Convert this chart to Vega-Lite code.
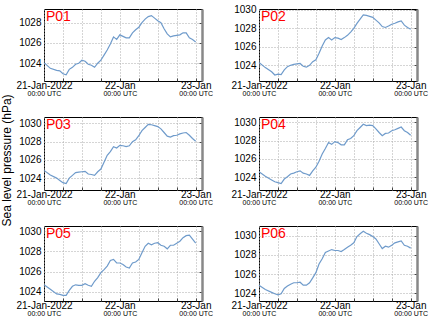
{
"$schema":"https://vega.github.io/schema/vega-lite/v6.json",
"background":"white",
"padding":{"left":1,"right":0,"top":4,"bottom":0},
"config":{"font":"Liberation Sans","view":{"stroke":"black","strokeWidth":1},
 "title":{"font":"Liberation Sans"},
 "text":{"color":"red","fontSize":14,"align":"left","baseline":"top","dx":2,"dy":1},
 "axisX":{"title":null,"labelColor":"black","labelFlush":false,"labelOverlap":false,"labelBound":false},
 "axisY":{"title":null,"labelColor":"black","labelOverlap":false,"format":"d"}},
"title":{"text":"Sea level pressure (hPa)","orient":"left","anchor":"middle","fontSize":12,"fontWeight":"normal","color":"black","offset":1},
"datasets":{"slp":[
{"p":"P01","h":0,"v":1024.06},{"p":"P01","h":2,"v":1023.5},{"p":"P01","h":4,"v":1023.3},{"p":"P01","h":5,"v":1023.25},{"p":"P01","h":6,"v":1022.97},{"p":"P01","h":7,"v":1022.87},{"p":"P01","h":8,"v":1023.4},{"p":"P01","h":9,"v":1023.6},{"p":"P01","h":10,"v":1023.9},{"p":"P01","h":11,"v":1024.0},{"p":"P01","h":12,"v":1024.3},{"p":"P01","h":13,"v":1024.2},{"p":"P01","h":14,"v":1023.9},{"p":"P01","h":15,"v":1023.8},{"p":"P01","h":16,"v":1023.6},{"p":"P01","h":17,"v":1024.0},{"p":"P01","h":18,"v":1024.3},{"p":"P01","h":19,"v":1024.8},{"p":"P01","h":20,"v":1025.3},{"p":"P01","h":21,"v":1025.9},{"p":"P01","h":22,"v":1026.6},{"p":"P01","h":23,"v":1026.35},{"p":"P01","h":24,"v":1026.8},{"p":"P01","h":25,"v":1026.65},{"p":"P01","h":26,"v":1026.5},{"p":"P01","h":27,"v":1026.5},{"p":"P01","h":28,"v":1027.0},{"p":"P01","h":29,"v":1027.3},{"p":"P01","h":30,"v":1027.55},{"p":"P01","h":31,"v":1028.0},{"p":"P01","h":32,"v":1028.35},{"p":"P01","h":33,"v":1028.6},{"p":"P01","h":34,"v":1028.7},{"p":"P01","h":35,"v":1028.45},{"p":"P01","h":36,"v":1028.2},{"p":"P01","h":37,"v":1028.0},{"p":"P01","h":38,"v":1027.4},{"p":"P01","h":39,"v":1026.9},{"p":"P01","h":40,"v":1026.6},{"p":"P01","h":41,"v":1026.7},{"p":"P01","h":42,"v":1026.75},{"p":"P01","h":43,"v":1026.8},{"p":"P01","h":44,"v":1027.0},{"p":"P01","h":45,"v":1027.0},{"p":"P01","h":46,"v":1026.5},{"p":"P01","h":47,"v":1026.35},{"p":"P01","h":48,"v":1026.1},
{"p":"P02","h":0,"v":1024.3},{"p":"P02","h":2,"v":1023.75},{"p":"P02","h":4,"v":1023.3},{"p":"P02","h":5,"v":1022.95},{"p":"P02","h":6,"v":1023.05},{"p":"P02","h":7,"v":1023.0},{"p":"P02","h":8,"v":1023.5},{"p":"P02","h":9,"v":1023.85},{"p":"P02","h":10,"v":1024.0},{"p":"P02","h":11,"v":1024.1},{"p":"P02","h":12,"v":1024.15},{"p":"P02","h":13,"v":1024.2},{"p":"P02","h":14,"v":1023.9},{"p":"P02","h":15,"v":1023.8},{"p":"P02","h":16,"v":1024.0},{"p":"P02","h":17,"v":1024.4},{"p":"P02","h":18,"v":1024.6},{"p":"P02","h":19,"v":1025.3},{"p":"P02","h":20,"v":1026.1},{"p":"P02","h":21,"v":1026.75},{"p":"P02","h":22,"v":1027.0},{"p":"P02","h":23,"v":1026.75},{"p":"P02","h":24,"v":1027.0},{"p":"P02","h":25,"v":1026.95},{"p":"P02","h":26,"v":1026.8},{"p":"P02","h":27,"v":1027.0},{"p":"P02","h":28,"v":1027.25},{"p":"P02","h":29,"v":1027.6},{"p":"P02","h":30,"v":1028.0},{"p":"P02","h":31,"v":1028.55},{"p":"P02","h":32,"v":1029.0},{"p":"P02","h":33,"v":1029.45},{"p":"P02","h":34,"v":1029.4},{"p":"P02","h":35,"v":1029.3},{"p":"P02","h":36,"v":1029.2},{"p":"P02","h":37,"v":1028.9},{"p":"P02","h":38,"v":1028.6},{"p":"P02","h":39,"v":1028.2},{"p":"P02","h":40,"v":1028.1},{"p":"P02","h":41,"v":1028.25},{"p":"P02","h":42,"v":1028.45},{"p":"P02","h":43,"v":1028.55},{"p":"P02","h":44,"v":1028.7},{"p":"P02","h":45,"v":1028.8},{"p":"P02","h":46,"v":1028.35},{"p":"P02","h":47,"v":1028.1},{"p":"P02","h":48,"v":1027.9},
{"p":"P03","h":0,"v":1024.85},{"p":"P03","h":2,"v":1024.35},{"p":"P03","h":4,"v":1024.0},{"p":"P03","h":5,"v":1023.75},{"p":"P03","h":6,"v":1023.5},{"p":"P03","h":7,"v":1023.4},{"p":"P03","h":8,"v":1024.0},{"p":"P03","h":9,"v":1024.3},{"p":"P03","h":10,"v":1024.6},{"p":"P03","h":11,"v":1024.65},{"p":"P03","h":12,"v":1024.7},{"p":"P03","h":13,"v":1024.75},{"p":"P03","h":14,"v":1024.45},{"p":"P03","h":15,"v":1024.4},{"p":"P03","h":16,"v":1024.3},{"p":"P03","h":17,"v":1024.7},{"p":"P03","h":18,"v":1025.0},{"p":"P03","h":19,"v":1025.75},{"p":"P03","h":20,"v":1026.5},{"p":"P03","h":21,"v":1026.9},{"p":"P03","h":22,"v":1027.45},{"p":"P03","h":23,"v":1027.3},{"p":"P03","h":24,"v":1027.6},{"p":"P03","h":25,"v":1027.55},{"p":"P03","h":26,"v":1027.45},{"p":"P03","h":27,"v":1027.55},{"p":"P03","h":28,"v":1028.0},{"p":"P03","h":29,"v":1028.2},{"p":"P03","h":30,"v":1028.65},{"p":"P03","h":31,"v":1029.2},{"p":"P03","h":32,"v":1029.55},{"p":"P03","h":33,"v":1029.9},{"p":"P03","h":34,"v":1029.85},{"p":"P03","h":35,"v":1029.75},{"p":"P03","h":36,"v":1029.65},{"p":"P03","h":37,"v":1029.4},{"p":"P03","h":38,"v":1029.0},{"p":"P03","h":39,"v":1028.6},{"p":"P03","h":40,"v":1028.5},{"p":"P03","h":41,"v":1028.65},{"p":"P03","h":42,"v":1028.7},{"p":"P03","h":43,"v":1028.85},{"p":"P03","h":44,"v":1028.95},{"p":"P03","h":45,"v":1029.0},{"p":"P03","h":46,"v":1028.7},{"p":"P03","h":47,"v":1028.35},{"p":"P03","h":48,"v":1028.05},
{"p":"P04","h":0,"v":1024.6},{"p":"P04","h":2,"v":1024.1},{"p":"P04","h":4,"v":1023.7},{"p":"P04","h":5,"v":1023.5},{"p":"P04","h":6,"v":1023.4},{"p":"P04","h":7,"v":1023.3},{"p":"P04","h":8,"v":1023.8},{"p":"P04","h":9,"v":1024.05},{"p":"P04","h":10,"v":1024.35},{"p":"P04","h":11,"v":1024.45},{"p":"P04","h":12,"v":1024.6},{"p":"P04","h":13,"v":1024.7},{"p":"P04","h":14,"v":1024.45},{"p":"P04","h":15,"v":1024.35},{"p":"P04","h":16,"v":1024.2},{"p":"P04","h":17,"v":1024.7},{"p":"P04","h":18,"v":1025.1},{"p":"P04","h":19,"v":1025.75},{"p":"P04","h":20,"v":1026.55},{"p":"P04","h":21,"v":1027.15},{"p":"P04","h":22,"v":1027.8},{"p":"P04","h":23,"v":1027.6},{"p":"P04","h":24,"v":1027.9},{"p":"P04","h":25,"v":1027.8},{"p":"P04","h":26,"v":1027.55},{"p":"P04","h":27,"v":1027.55},{"p":"P04","h":28,"v":1028.1},{"p":"P04","h":29,"v":1028.25},{"p":"P04","h":30,"v":1028.55},{"p":"P04","h":31,"v":1029.1},{"p":"P04","h":32,"v":1029.45},{"p":"P04","h":33,"v":1029.8},{"p":"P04","h":34,"v":1029.65},{"p":"P04","h":35,"v":1029.7},{"p":"P04","h":36,"v":1029.65},{"p":"P04","h":37,"v":1029.3},{"p":"P04","h":38,"v":1028.9},{"p":"P04","h":39,"v":1028.55},{"p":"P04","h":40,"v":1028.8},{"p":"P04","h":41,"v":1028.85},{"p":"P04","h":42,"v":1029.1},{"p":"P04","h":43,"v":1029.2},{"p":"P04","h":44,"v":1029.35},{"p":"P04","h":45,"v":1029.5},{"p":"P04","h":46,"v":1029.1},{"p":"P04","h":47,"v":1028.9},{"p":"P04","h":48,"v":1028.6},
{"p":"P05","h":0,"v":1024.7},{"p":"P05","h":2,"v":1024.25},{"p":"P05","h":4,"v":1023.8},{"p":"P05","h":5,"v":1023.75},{"p":"P05","h":6,"v":1023.65},{"p":"P05","h":7,"v":1023.65},{"p":"P05","h":8,"v":1024.15},{"p":"P05","h":9,"v":1024.55},{"p":"P05","h":10,"v":1024.7},{"p":"P05","h":11,"v":1024.65},{"p":"P05","h":12,"v":1024.65},{"p":"P05","h":13,"v":1024.8},{"p":"P05","h":14,"v":1024.65},{"p":"P05","h":15,"v":1024.55},{"p":"P05","h":16,"v":1025.05},{"p":"P05","h":17,"v":1025.4},{"p":"P05","h":18,"v":1025.9},{"p":"P05","h":19,"v":1026.2},{"p":"P05","h":20,"v":1026.55},{"p":"P05","h":21,"v":1027.1},{"p":"P05","h":22,"v":1027.2},{"p":"P05","h":23,"v":1026.85},{"p":"P05","h":24,"v":1026.85},{"p":"P05","h":25,"v":1026.7},{"p":"P05","h":26,"v":1026.45},{"p":"P05","h":27,"v":1026.35},{"p":"P05","h":28,"v":1026.85},{"p":"P05","h":29,"v":1026.95},{"p":"P05","h":30,"v":1027.2},{"p":"P05","h":31,"v":1027.85},{"p":"P05","h":32,"v":1028.5},{"p":"P05","h":33,"v":1028.8},{"p":"P05","h":34,"v":1028.65},{"p":"P05","h":35,"v":1028.8},{"p":"P05","h":36,"v":1028.85},{"p":"P05","h":37,"v":1028.6},{"p":"P05","h":38,"v":1028.5},{"p":"P05","h":39,"v":1028.25},{"p":"P05","h":40,"v":1028.6},{"p":"P05","h":41,"v":1028.6},{"p":"P05","h":42,"v":1028.8},{"p":"P05","h":43,"v":1029.0},{"p":"P05","h":44,"v":1029.35},{"p":"P05","h":45,"v":1029.55},{"p":"P05","h":46,"v":1029.6},{"p":"P05","h":47,"v":1029.2},{"p":"P05","h":48,"v":1028.8},
{"p":"P06","h":0,"v":1024.85},{"p":"P06","h":2,"v":1024.4},{"p":"P06","h":4,"v":1024.1},{"p":"P06","h":5,"v":1023.95},{"p":"P06","h":6,"v":1023.85},{"p":"P06","h":7,"v":1023.95},{"p":"P06","h":8,"v":1024.5},{"p":"P06","h":9,"v":1024.75},{"p":"P06","h":10,"v":1024.95},{"p":"P06","h":11,"v":1025.1},{"p":"P06","h":12,"v":1025.1},{"p":"P06","h":13,"v":1025.15},{"p":"P06","h":14,"v":1024.85},{"p":"P06","h":15,"v":1024.85},{"p":"P06","h":16,"v":1025.1},{"p":"P06","h":17,"v":1025.6},{"p":"P06","h":18,"v":1026.15},{"p":"P06","h":19,"v":1027.05},{"p":"P06","h":20,"v":1027.6},{"p":"P06","h":21,"v":1028.25},{"p":"P06","h":22,"v":1028.4},{"p":"P06","h":23,"v":1028.55},{"p":"P06","h":24,"v":1028.45},{"p":"P06","h":25,"v":1028.45},{"p":"P06","h":26,"v":1028.35},{"p":"P06","h":27,"v":1028.55},{"p":"P06","h":28,"v":1028.8},{"p":"P06","h":29,"v":1029.0},{"p":"P06","h":30,"v":1029.25},{"p":"P06","h":31,"v":1029.9},{"p":"P06","h":32,"v":1030.2},{"p":"P06","h":33,"v":1030.45},{"p":"P06","h":34,"v":1030.25},{"p":"P06","h":35,"v":1030.1},{"p":"P06","h":36,"v":1029.9},{"p":"P06","h":37,"v":1029.65},{"p":"P06","h":38,"v":1029.15},{"p":"P06","h":39,"v":1028.65},{"p":"P06","h":40,"v":1028.9},{"p":"P06","h":41,"v":1028.8},{"p":"P06","h":42,"v":1029.0},{"p":"P06","h":43,"v":1029.25},{"p":"P06","h":44,"v":1029.35},{"p":"P06","h":45,"v":1029.45},{"p":"P06","h":46,"v":1029.0},{"p":"P06","h":47,"v":1028.9},{"p":"P06","h":48,"v":1028.7}
]},
"data":{"name":"slp"},
"spacing":19,
"vconcat":[
{"spacing":16,"hconcat":[
{"width":158,"height":72,
 "transform":[{"filter":"datum.p==='P01'"}],
 "layer":[
  {"mark":{"type":"line","color":"#6f9bcb","strokeWidth":1.2},
   "encoding":{"x":{"field":"h","type":"quantitative","scale":{"domain":[0,48]},"axis":{"values":[0,6,12,18,24,30,36,42,48],"labelExpr":"datum.value==0?'21-Jan-2022':datum.value==24?'22-Jan':datum.value==48?'23-Jan':''","grid":true,"gridDash":[1,2],"gridColor":"#aaa","tickSize":-3,"tickColor":"#444","labelFontSize":10,"labelPadding":2,"domain":false}},
    "y":{"field":"v","type":"quantitative","scale":{"domain":[1022.25,1029.35],"nice":false,"zero":false},"axis":{"values":[1024,1026,1028],"grid":true,"gridDash":[1,2],"gridColor":"#aaa","tickSize":0,"labelFontSize":10,"labelPadding":3,"domain":false}}}},
  {"mark":{"type":"line","opacity":0},
   "encoding":{"x":{"field":"h","type":"quantitative","axis":{"orient":"bottom","values":[0,24,48],"labelExpr":"'00:00 UTC'","labelFontSize":7,"labelPadding":8,"ticks":false,"domain":false,"grid":false}},
    "y":{"field":"v","type":"quantitative","axis":{"orient":"right","values":[1024,1026,1028],"labels":false,"grid":false,"tickSize":-3,"tickColor":"#444","domainColor":"#888","domainWidth":2.5}}}},
  {"transform":[{"filter":"datum.h==0"}],"mark":{"type":"text"},
   "encoding":{"x":{"datum":0,"type":"quantitative","axis":null},"y":{"datum":1029.35,"type":"quantitative","axis":null},"text":{"field":"p"}}}
 ],
 "resolve":{"axis":{"x":"independent","y":"independent"}}},
{"width":158,"height":72,
 "transform":[{"filter":"datum.p==='P02'"}],
 "layer":[
  {"mark":{"type":"line","color":"#6f9bcb","strokeWidth":1.2},
   "encoding":{"x":{"field":"h","type":"quantitative","scale":{"domain":[0,48]},"axis":{"values":[0,6,12,18,24,30,36,42,48],"labelExpr":"datum.value==0?'21-Jan-2022':datum.value==24?'22-Jan':datum.value==48?'23-Jan':''","grid":true,"gridDash":[1,2],"gridColor":"#aaa","tickSize":-3,"tickColor":"#444","labelFontSize":10,"labelPadding":2,"domain":false}},
    "y":{"field":"v","type":"quantitative","scale":{"domain":[1022.3,1030.1],"nice":false,"zero":false},"axis":{"values":[1024,1026,1028,1030],"grid":true,"gridDash":[1,2],"gridColor":"#aaa","tickSize":0,"labelFontSize":10,"labelPadding":3,"domain":false}}}},
  {"mark":{"type":"line","opacity":0},
   "encoding":{"x":{"field":"h","type":"quantitative","axis":{"orient":"bottom","values":[0,24,48],"labelExpr":"'00:00 UTC'","labelFontSize":7,"labelPadding":8,"ticks":false,"domain":false,"grid":false}},
    "y":{"field":"v","type":"quantitative","axis":{"orient":"right","values":[1024,1026,1028,1030],"labels":false,"grid":false,"tickSize":-3,"tickColor":"#444","domainColor":"#888","domainWidth":2.5}}}},
  {"transform":[{"filter":"datum.h==0"}],"mark":{"type":"text"},
   "encoding":{"x":{"datum":0,"type":"quantitative","axis":null},"y":{"datum":1030.1,"type":"quantitative","axis":null},"text":{"field":"p"}}}
 ],
 "resolve":{"axis":{"x":"independent","y":"independent"}}}
]},
{"spacing":16,"hconcat":[
{"width":158,"height":73,
 "transform":[{"filter":"datum.p==='P03'"}],
 "layer":[
  {"mark":{"type":"line","color":"#6f9bcb","strokeWidth":1.2},
   "encoding":{"x":{"field":"h","type":"quantitative","scale":{"domain":[0,48]},"axis":{"values":[0,6,12,18,24,30,36,42,48],"labelExpr":"datum.value==0?'21-Jan-2022':datum.value==24?'22-Jan':datum.value==48?'23-Jan':''","grid":true,"gridDash":[1,2],"gridColor":"#aaa","tickSize":-3,"tickColor":"#444","labelFontSize":10,"labelPadding":2,"domain":false}},
    "y":{"field":"v","type":"quantitative","scale":{"domain":[1022.7,1030.7],"nice":false,"zero":false},"axis":{"values":[1024,1026,1028,1030],"grid":true,"gridDash":[1,2],"gridColor":"#aaa","tickSize":0,"labelFontSize":10,"labelPadding":3,"domain":false}}}},
  {"mark":{"type":"line","opacity":0},
   "encoding":{"x":{"field":"h","type":"quantitative","axis":{"orient":"bottom","values":[0,24,48],"labelExpr":"'00:00 UTC'","labelFontSize":7,"labelPadding":8,"ticks":false,"domain":false,"grid":false}},
    "y":{"field":"v","type":"quantitative","axis":{"orient":"right","values":[1024,1026,1028,1030],"labels":false,"grid":false,"tickSize":-3,"tickColor":"#444","domainColor":"#888","domainWidth":2.5}}}},
  {"transform":[{"filter":"datum.h==0"}],"mark":{"type":"text"},
   "encoding":{"x":{"datum":0,"type":"quantitative","axis":null},"y":{"datum":1030.7,"type":"quantitative","axis":null},"text":{"field":"p"}}}
 ],
 "resolve":{"axis":{"x":"independent","y":"independent"}}},
{"width":158,"height":73,
 "transform":[{"filter":"datum.p==='P04'"}],
 "layer":[
  {"mark":{"type":"line","color":"#6f9bcb","strokeWidth":1.2},
   "encoding":{"x":{"field":"h","type":"quantitative","scale":{"domain":[0,48]},"axis":{"values":[0,6,12,18,24,30,36,42,48],"labelExpr":"datum.value==0?'21-Jan-2022':datum.value==24?'22-Jan':datum.value==48?'23-Jan':''","grid":true,"gridDash":[1,2],"gridColor":"#aaa","tickSize":-3,"tickColor":"#444","labelFontSize":10,"labelPadding":2,"domain":false}},
    "y":{"field":"v","type":"quantitative","scale":{"domain":[1022.6,1030.6],"nice":false,"zero":false},"axis":{"values":[1024,1026,1028,1030],"grid":true,"gridDash":[1,2],"gridColor":"#aaa","tickSize":0,"labelFontSize":10,"labelPadding":3,"domain":false}}}},
  {"mark":{"type":"line","opacity":0},
   "encoding":{"x":{"field":"h","type":"quantitative","axis":{"orient":"bottom","values":[0,24,48],"labelExpr":"'00:00 UTC'","labelFontSize":7,"labelPadding":8,"ticks":false,"domain":false,"grid":false}},
    "y":{"field":"v","type":"quantitative","axis":{"orient":"right","values":[1024,1026,1028,1030],"labels":false,"grid":false,"tickSize":-3,"tickColor":"#444","domainColor":"#888","domainWidth":2.5}}}},
  {"transform":[{"filter":"datum.h==0"}],"mark":{"type":"text"},
   "encoding":{"x":{"datum":0,"type":"quantitative","axis":null},"y":{"datum":1030.6,"type":"quantitative","axis":null},"text":{"field":"p"}}}
 ],
 "resolve":{"axis":{"x":"independent","y":"independent"}}}
]},
{"spacing":16,"hconcat":[
{"width":158,"height":75,
 "transform":[{"filter":"datum.p==='P05'"}],
 "layer":[
  {"mark":{"type":"line","color":"#6f9bcb","strokeWidth":1.2},
   "encoding":{"x":{"field":"h","type":"quantitative","scale":{"domain":[0,48]},"axis":{"values":[0,6,12,18,24,30,36,42,48],"labelExpr":"datum.value==0?'21-Jan-2022':datum.value==24?'22-Jan':datum.value==48?'23-Jan':''","grid":true,"gridDash":[1,2],"gridColor":"#aaa","tickSize":-3,"tickColor":"#444","labelFontSize":10,"labelPadding":2,"domain":false}},
    "y":{"field":"v","type":"quantitative","scale":{"domain":[1023.1,1030.5],"nice":false,"zero":false},"axis":{"values":[1024,1026,1028,1030],"grid":true,"gridDash":[1,2],"gridColor":"#aaa","tickSize":0,"labelFontSize":10,"labelPadding":3,"domain":false}}}},
  {"mark":{"type":"line","opacity":0},
   "encoding":{"x":{"field":"h","type":"quantitative","axis":{"orient":"bottom","values":[0,24,48],"labelExpr":"'00:00 UTC'","labelFontSize":7,"labelPadding":8,"ticks":false,"domain":false,"grid":false}},
    "y":{"field":"v","type":"quantitative","axis":{"orient":"right","values":[1024,1026,1028,1030],"labels":false,"grid":false,"tickSize":-3,"tickColor":"#444","domainColor":"#888","domainWidth":2.5}}}},
  {"transform":[{"filter":"datum.h==0"}],"mark":{"type":"text"},
   "encoding":{"x":{"datum":0,"type":"quantitative","axis":null},"y":{"datum":1030.5,"type":"quantitative","axis":null},"text":{"field":"p"}}}
 ],
 "resolve":{"axis":{"x":"independent","y":"independent"}}},
{"width":158,"height":75,
 "transform":[{"filter":"datum.p==='P06'"}],
 "layer":[
  {"mark":{"type":"line","color":"#6f9bcb","strokeWidth":1.2},
   "encoding":{"x":{"field":"h","type":"quantitative","scale":{"domain":[0,48]},"axis":{"values":[0,6,12,18,24,30,36,42,48],"labelExpr":"datum.value==0?'21-Jan-2022':datum.value==24?'22-Jan':datum.value==48?'23-Jan':''","grid":true,"gridDash":[1,2],"gridColor":"#aaa","tickSize":-3,"tickColor":"#444","labelFontSize":10,"labelPadding":2,"domain":false}},
    "y":{"field":"v","type":"quantitative","scale":{"domain":[1023.2,1031.0],"nice":false,"zero":false},"axis":{"values":[1024,1026,1028,1030],"grid":true,"gridDash":[1,2],"gridColor":"#aaa","tickSize":0,"labelFontSize":10,"labelPadding":3,"domain":false}}}},
  {"mark":{"type":"line","opacity":0},
   "encoding":{"x":{"field":"h","type":"quantitative","axis":{"orient":"bottom","values":[0,24,48],"labelExpr":"'00:00 UTC'","labelFontSize":7,"labelPadding":8,"ticks":false,"domain":false,"grid":false}},
    "y":{"field":"v","type":"quantitative","axis":{"orient":"right","values":[1024,1026,1028,1030],"labels":false,"grid":false,"tickSize":-3,"tickColor":"#444","domainColor":"#888","domainWidth":2.5}}}},
  {"transform":[{"filter":"datum.h==0"}],"mark":{"type":"text"},
   "encoding":{"x":{"datum":0,"type":"quantitative","axis":null},"y":{"datum":1031.0,"type":"quantitative","axis":null},"text":{"field":"p"}}}
 ],
 "resolve":{"axis":{"x":"independent","y":"independent"}}}
]}
]
}
